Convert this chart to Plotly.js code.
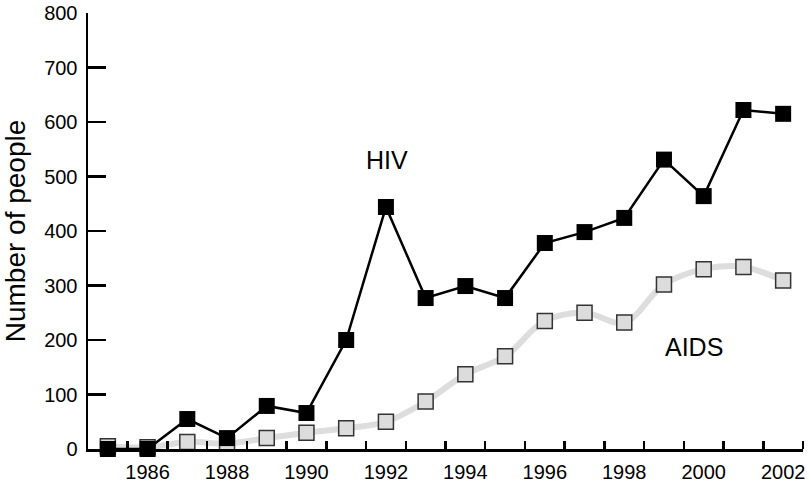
<!DOCTYPE html>
<html>
<head>
<meta charset="utf-8">
<script src="https://cdn.plot.ly/plotly-3.0.1.min.js"></script>
<style>html,body{margin:0;padding:0;background:#fff;}#chart{width:810px;height:484px;}</style>
</head>
<body>
<div id="chart"></div>
<script>
const years = [1985,1986,1987,1988,1989,1990,1991,1992,1993,1994,1995,1996,1997,1998,1999,2000,2001,2002];
const hiv   = [0,0,55,20,79,66,200,444,277,299,277,378,398,424,531,464,622,615];
const aids  = [5,3,13,10,20,30,38,50,87,137,170,235,250,232,302,330,334,309];
const xTickLabels = ['1986','1988','1990','1992','1994','1996','1998','2000','2002'];
const xTickVals = [1986,1988,1990,1992,1994,1996,1998,2000,2002];
const xMinorVals = [1985.5,1986.5,1987.5,1988.5,1989.5,1990.5,1991.5,1992.5,1993.5,1994.5,1995.5,1996.5,1997.5,1998.5,1999.5,2000.5,2001.5,2002.5];
const yTickVals = [0,100,200,300,400,500,600,700,800];

const font = 'Liberation Sans, Arial, Helvetica, sans-serif';

const traces = [
  {
    x: years, y: aids, name: 'AIDS', type: 'scatter', mode: 'lines+markers',
    line: {color: '#dddddd', width: 6, shape: 'spline', smoothing: 1},
    marker: {symbol: 'square', size: 15, color: '#dcdcdc', line: {color: '#333333', width: 1.5}},
    cliponaxis: false
  },
  {
    x: years, y: hiv, name: 'HIV', type: 'scatter', mode: 'lines+markers',
    line: {color: '#000000', width: 2.5},
    marker: {symbol: 'square', size: 16, color: '#000000'},
    cliponaxis: false
  }
];

const layout = {
  width: 810, height: 484,
  margin: {l: 88, r: 7, t: 13, b: 35},
  paper_bgcolor: '#ffffff', plot_bgcolor: '#ffffff',
  showlegend: false,
  font: {family: font, color: '#000000'},
  xaxis: {
    range: [1984.5, 2002.5],
    showgrid: false, zeroline: false,
    showline: true, linecolor: '#000000', linewidth: 2.5,
    tickmode: 'array', tickvals: xTickVals, ticktext: xTickLabels,
    ticks: '', ticklabelstandoff: 3,
    tickfont: {size: 20, family: font, color: '#000'},
    minor: {tickmode: 'array', tickvals: xMinorVals, ticks: 'inside', ticklen: 8, tickwidth: 2.5, tickcolor: '#000000', showgrid: false}
  },
  yaxis: {
    range: [0, 800],
    showgrid: false, zeroline: false,
    showline: true, linecolor: '#000000', linewidth: 2.5,
    tickmode: 'array', tickvals: yTickVals,
    ticks: 'inside', ticklen: 18, tickwidth: 2.5, tickcolor: '#000000',
    ticklabelstandoff: 4,
    tickfont: {size: 20, family: font, color: '#000'},
    title: {text: 'Number of people', font: {size: 28, family: font, color: '#000'}, standoff: 12}
  },
  annotations: [
    {x: 1992.03, y: 530, xref: 'x', yref: 'y', text: 'HIV', showarrow: false, font: {size: 25, family: font, color: '#000'}},
    {x: 1999.76, y: 187, xref: 'x', yref: 'y', text: 'AIDS', showarrow: false, font: {size: 25, family: font, color: '#000'}}
  ]
};

Plotly.newPlot('chart', traces, layout, {displayModeBar: false, staticPlot: true});
</script>
</body>
</html>
